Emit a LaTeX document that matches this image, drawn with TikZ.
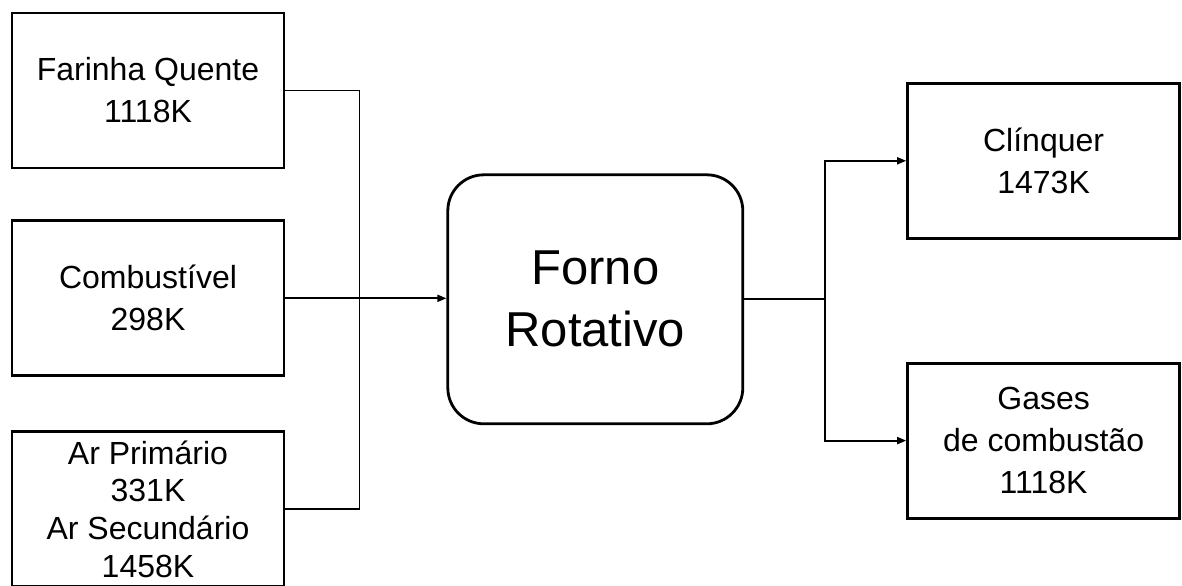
\documentclass[tikz,border=0pt]{standalone}
\usepackage{fontspec}
\setmainfont{Liberation Sans}
\usetikzlibrary{calc}
\usetikzlibrary{positioning}
\usetikzlibrary{arrows.meta}

\tikzset{
  stream/.style={draw, line width=1.4pt, minimum width=136pt, minimum height=77.5pt,
    inner sep=0pt, align=center, font=\fontsize{16}{21}\selectfont},
  kiln/.style={draw, rounded corners=18pt, line width=1.4pt, minimum width=147.5pt,
    minimum height=124.5pt, align=center, font=\fontsize{24.5}{31}\selectfont},
  flow/.style={line width=0.9pt, -{Triangle[length=4.5pt, width=3.5pt]}},
}

\begin{document}
\begin{tikzpicture}
  \useasboundingbox (0,0) rectangle (591pt,-292.5pt);

  % entradas
  \node [stream] (farinha) at (74pt,-45.25pt) {Farinha Quente\\1118K};
  \node [stream, below=25pt of farinha] (combust) {Combustível\\298K};
  \node [stream, below=26.5pt of combust, font=\fontsize{16}{18.8}\selectfont] (ar)
    {Ar Primário\\331K\\Ar Secundário\\1458K};

  \node [kiln, right=80.5pt of combust, yshift=-0.5pt] (forno) {Forno\\Rotativo};

  % saidas
  \node [stream, right=81pt of forno, yshift=69.25pt] (clinquer) {Clínquer\\1473K};
  \node [stream, below=61pt of clinquer] (gases) {Gases\\de combustão\\1118K};

  \coordinate (joinL) at ($(combust.east)!0.46!(forno.west |- combust.east)$);
  \coordinate (joinR) at ($(forno.east)!0.5!(clinquer.west |- forno.east)$);

  \draw [line width=0.9pt] (farinha.east) -| (joinL) |- (ar.east);
  \draw [flow] (combust.east) -- (combust.east -| forno.west);
  \draw [line width=0.9pt] (forno.east) -- (joinR);
  \draw [flow] (joinR) |- (clinquer.west);
  \draw [flow] (joinR) |- (gases.west);
\end{tikzpicture}
\end{document}
